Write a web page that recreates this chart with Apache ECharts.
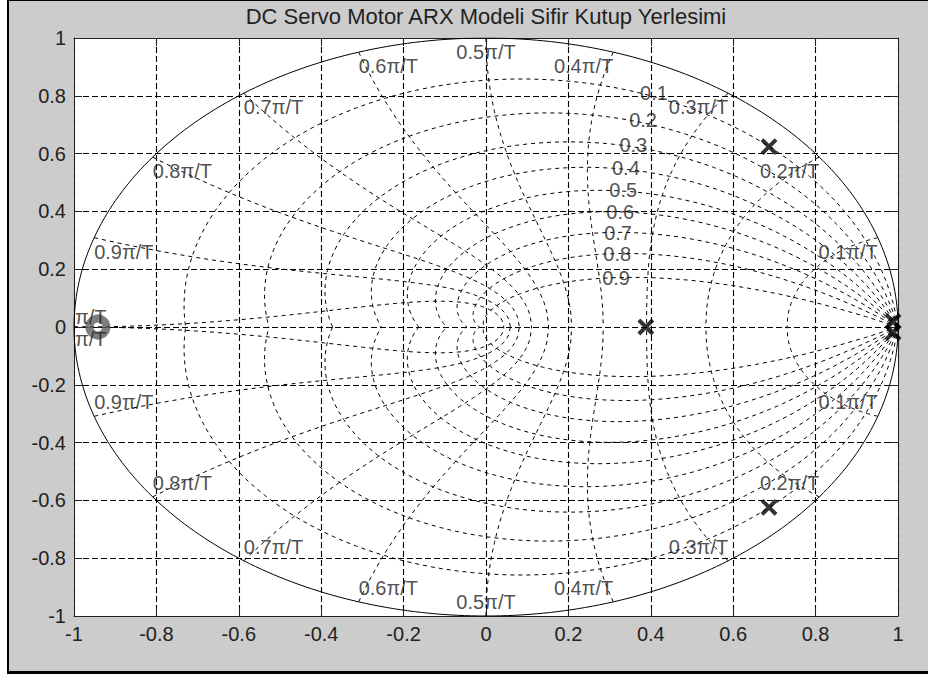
<!DOCTYPE html>
<html><head><meta charset="utf-8">
<script src="https://cdn.jsdelivr.net/npm/echarts@6/dist/echarts.min.js"></script>
<style>html,body{margin:0;padding:0;background:#fff;overflow:hidden}#c{width:928px;height:674px}</style>
</head><body><div id="c"></div><script>
// ---------------- data ----------------
const titleText = 'DC Servo Motor ARX Modeli Sifir Kutup Yerlesimi';
const xTicks = [-1, -0.8, -0.6, -0.4, -0.2, 0, 0.2, 0.4, 0.6, 0.8, 1];
const xTickLabels = ['-1', '-0.8', '-0.6', '-0.4', '-0.2', '0', '0.2', '0.4', '0.6', '0.8', '1'];
const yTicks = [-1, -0.8, -0.6, -0.4, -0.2, 0, 0.2, 0.4, 0.6, 0.8, 1];
const yTickLabels = ['-1', '-0.8', '-0.6', '-0.4', '-0.2', '0', '0.2', '0.4', '0.6', '0.8', '1'];
// poles (x) and zeros (o): real and imaginary parts
const poleRe = [0.687, 0.687, 0.388, 0.988, 0.988];
const poleIm = [0.624, -0.624, 0.0, 0.019, -0.019];
const zeroRe = [-0.942];
const zeroIm = [0.0];
// zgrid: damping ratios and natural frequencies (multiples of pi/T)
const zetaValues = [0.1, 0.2, 0.3, 0.4, 0.5, 0.6, 0.7, 0.8, 0.9];
const zetaLabels = ['0.1', '0.2', '0.3', '0.4', '0.5', '0.6', '0.7', '0.8', '0.9'];
const wnValues = [0.1, 0.2, 0.3, 0.4, 0.5, 0.6, 0.7, 0.8, 0.9, 1.0];
const wnLabels = ['0.1\u03c0/T', '0.2\u03c0/T', '0.3\u03c0/T', '0.4\u03c0/T', '0.5\u03c0/T',
                  '0.6\u03c0/T', '0.7\u03c0/T', '0.8\u03c0/T', '0.9\u03c0/T', '\u03c0/T'];

// ---------------- layout / style ----------------
const FONT = '"Liberation Sans", Arial, Helvetica, sans-serif';
const zetaLabelAngles = [1.138, 1.119, 1.096, 1.063, 1.006, 0.939, 0.850, 0.725, 0.539];
const N = 80;

function zetaCurve(z, s) {
  const m = Math.tan(Math.asin(z));
  const pts = [];
  for (let i = 0; i <= N; i++) {
    const p = Math.PI * i / N, r = Math.exp(-m * p);
    pts.push([r * Math.cos(p), s * r * Math.sin(p)]);
  }
  return pts;
}
function wnCurve(w, s) {
  const W = w * Math.PI, pts = [];
  for (let i = 0; i <= N; i++) {
    const zt = i / N, r = Math.exp(-zt * W), a = W * Math.sqrt(1 - zt * zt);
    pts.push([r * Math.cos(a), s * r * Math.sin(a)]);
  }
  return pts;
}
function unitCircle() {
  const pts = [];
  for (let i = 0; i <= 360; i++) {
    const a = Math.PI * 2 * i / 360;
    pts.push([Math.cos(a), Math.sin(a)]);
  }
  return pts;
}
const gridDash = { color: '#000', width: 1.1, type: [6, 3] };
const zDash = { color: '#000', width: 1, type: [4, 4] };

const series = [];
function addLine(data, style, z) {
  series.push({ type: 'line', data, showSymbol: false, symbol: 'none', silent: true,
    lineStyle: style, z, animation: false, clip: true });
}
zetaValues.forEach(z => { addLine(zetaCurve(z, 1), zDash, 2); addLine(zetaCurve(z, -1), zDash, 2); });
wnValues.forEach(w => { addLine(wnCurve(w, 1), zDash, 2); addLine(wnCurve(w, -1), zDash, 2); });
addLine(unitCircle(), { color: '#000', width: 1, type: 'solid' }, 3);

// label positions
const labelData = [];
zetaValues.forEach((z, i) => {
  const m = Math.tan(Math.asin(z)), p = zetaLabelAngles[i], r = Math.exp(-m * p);
  labelData.push({ name: zetaLabels[i], value: [r * Math.cos(p), r * Math.sin(p)],
    label: { align: 'left', verticalAlign: 'middle', offset: [0, 0] } });
});
wnValues.forEach((w, i) => {
  const a = w * Math.PI, x = Math.cos(a), y = Math.sin(a);
  const align = x > 0.01 ? 'right' : (x < -0.01 ? 'left' : 'center');
  if (w < 1) {
    labelData.push({ name: wnLabels[i], value: [x, y], label: { align, verticalAlign: 'top', offset: [0, 4] } });
    labelData.push({ name: wnLabels[i], value: [x, -y], label: { align, verticalAlign: 'bottom', offset: [0, -4] } });
  } else {
    labelData.push({ name: wnLabels[i], value: [-1, 0], label: { align: 'left', verticalAlign: 'bottom', offset: [1, 0] } });
    labelData.push({ name: wnLabels[i], value: [-1, 0], label: { align: 'left', verticalAlign: 'top', offset: [1, 2] } });
  }
});
series.push({ type: 'scatter', data: labelData, symbolSize: 1, silent: true, animation: false, z: 6, clip: false,
  itemStyle: { color: 'rgba(0,0,0,0)' },
  label: { show: true, position: 'inside', formatter: p => p.name, color: '#222', fontSize: 20, fontFamily: FONT } });

series.push({ type: 'scatter', name: 'zeros', data: zeroRe.map((v, i) => [v, zeroIm[i]]),
  symbol: 'circle', symbolSize: 17, silent: true, animation: false, z: 5,
  itemStyle: { color: 'rgba(0,0,0,0)', borderColor: '#5e5e5e', borderWidth: 8 } });
series.push({ type: 'scatter', name: 'poles', data: poleRe.map((v, i) => [v, poleIm[i]]),
  symbol: 'path://M0,0L10,10M10,0L0,10', symbolSize: 14, silent: true, animation: false, z: 5,
  itemStyle: { color: 'none', borderColor: '#000', borderWidth: 4 } });

function tickLabel(ticks, labels) {
  return v => { const i = ticks.findIndex(t => Math.abs(t - v) < 1e-9); return i >= 0 ? labels[i] : ''; };
}
const axisLine = { show: true, onZero: false, lineStyle: { color: '#222', width: 1 } };
const tick = { show: true, inside: true, length: 8, lineStyle: { color: '#222' } };

const chart = echarts.init(document.getElementById('c'), null, { renderer: 'svg' });
chart.setOption({
  backgroundColor: '#cccccc',
  animation: false,
  grid: { left: 74, top: 38, width: 824, height: 578, show: true, backgroundColor: '#fff', borderWidth: 0 },
  xAxis: [
    { type: 'value', min: -1, max: 1, interval: 0.2, position: 'bottom', axisLine, axisTick: tick,
      splitLine: { show: true, lineStyle: gridDash },
      axisLabel: { formatter: tickLabel(xTicks, xTickLabels), color: '#222', fontSize: 20, fontFamily: FONT, margin: 8 } },
    { type: 'value', min: -1, max: 1, interval: 0.2, position: 'top', axisLine, axisTick: tick,
      splitLine: { show: false }, axisLabel: { show: false } }
  ],
  yAxis: [
    { type: 'value', min: -1, max: 1, interval: 0.2, position: 'left', axisLine, axisTick: tick,
      splitLine: { show: true, lineStyle: gridDash },
      axisLabel: { formatter: tickLabel(yTicks, yTickLabels), color: '#222', fontSize: 20, fontFamily: FONT, margin: 8 } },
    { type: 'value', min: -1, max: 1, interval: 0.2, position: 'right', axisLine, axisTick: tick,
      splitLine: { show: false }, axisLabel: { show: false } }
  ],
  graphic: [
    { type: 'rect', shape: { x: 0, y: 0, width: 7, height: 674 }, style: { fill: '#fff' }, silent: true },
    { type: 'rect', shape: { x: 7, y: 0, width: 2, height: 674 }, style: { fill: '#000' }, silent: true },
    { type: 'rect', shape: { x: 7, y: 0, width: 921, height: 1 }, style: { fill: '#000' }, silent: true },
    { type: 'rect', shape: { x: 7, y: 671, width: 921, height: 3 }, style: { fill: '#000' }, silent: true },
    { type: 'text', x: 486, y: 16, silent: true,
      style: { text: titleText, font: '22px ' + FONT, fill: '#222', align: 'center', verticalAlign: 'middle' } }
  ],
  series
});
</script></body></html>
